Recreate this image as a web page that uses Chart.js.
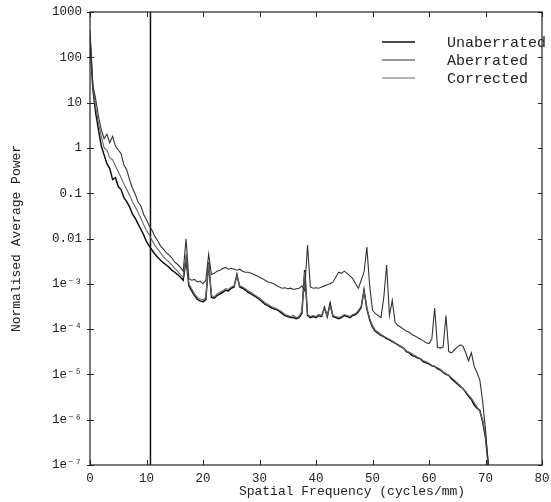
<!DOCTYPE html>
<html>
<head>
<meta charset="utf-8">
<script src="https://cdn.jsdelivr.net/npm/chart.js@4.4.1/dist/chart.umd.min.js"></script>
<style>
  html, body { margin: 0; padding: 0; background: #fff; }
</style>
</head>
<body>
<canvas id="chart" width="551" height="502"></canvas>
<script>
// spatial frequency samples (cycles/mm)
const freq = [
  0, 0.5, 1, 1.5, 2, 2.5, 3, 3.5, 4, 4.5,
  5, 5.5, 6, 6.5, 7, 7.5, 8, 8.5, 9, 9.5,
  10, 10.5, 11, 11.5, 12, 12.5, 13, 13.5, 14, 14.5,
  15, 15.5, 16, 16.5, 17, 17.5, 18, 18.5, 19, 19.5,
  20, 20.5, 21, 21.5, 22, 22.5, 23, 23.5, 24, 24.5,
  25, 25.5, 26, 26.5, 27, 27.5, 28, 28.5, 29, 29.5,
  30, 30.5, 31, 31.5, 32, 32.5, 33, 33.5, 34, 34.5,
  35, 35.5, 36, 36.5, 37, 37.5, 38, 38.5, 39, 39.5,
  40, 40.5, 41, 41.5, 42, 42.5, 43, 43.5, 44, 44.5,
  45, 45.5, 46, 46.5, 47, 47.5, 48, 48.5, 49, 49.5,
  50, 50.5, 51, 51.5, 52, 52.5, 53, 53.5, 54, 54.5,
  55, 55.5, 56, 56.5, 57, 57.5, 58, 58.5, 59, 59.5,
  60, 60.5, 61, 61.5, 62, 62.5, 63, 63.5, 64, 64.5,
  65, 65.5, 66, 66.5, 67, 67.5, 68, 68.5, 69, 69.5,
  70, 70.5
];

const unaberrated = [
  250, 20, 6, 2.5, 1.1, 0.7, 0.45, 0.35, 0.2, 0.22,
  0.14, 0.12, 0.08, 0.065, 0.05, 0.035, 0.028, 0.021, 0.016, 0.012,
  0.0085, 0.0068, 0.0055, 0.0045, 0.0038, 0.0033, 0.0029, 0.0026, 0.0023, 0.002,
  0.0018, 0.0016, 0.0014, 0.0012, 0.0035, 0.0009, 0.0007, 0.00055, 0.00045, 0.00042,
  0.0004, 0.00045, 0.003, 0.0005, 0.00048, 0.00055, 0.0006, 0.00065, 0.00072, 0.0007,
  0.0008, 0.00085, 0.0016, 0.00085, 0.0008, 0.00072, 0.00065, 0.0006, 0.00055, 0.0005,
  0.00045, 0.0004, 0.00035, 0.00033, 0.0003, 0.00028, 0.00027, 0.00025, 0.00022, 0.0002,
  0.00019, 0.00018, 0.00018, 0.00017, 0.00018, 0.00022, 0.002, 0.0002, 0.00018, 0.00019,
  0.00018, 0.0002, 0.00019, 0.0003, 0.00019, 0.00037, 0.00019, 0.00018, 0.00017, 0.00018,
  0.0002, 0.00019, 0.00018, 0.0002, 0.00021, 0.00024, 0.0003, 0.00073, 0.00028, 0.00016,
  1.1e-4, 9e-5, 8e-5, 7.3e-5, 6.8e-5, 6.2e-5, 5.8e-5, 5.3e-5, 4.9e-5, 4.5e-5,
  4.1e-5, 3.8e-5, 3.2e-5, 3e-5, 2.6e-5, 2.5e-5, 2.3e-5, 2.2e-5, 1.9e-5, 1.8e-5,
  1.7e-5, 1.55e-5, 1.5e-5, 1.35e-5, 1.25e-5, 1.1e-5, 1e-5, 9.5e-6, 8e-6, 7e-6,
  6.2e-6, 5.4e-6, 4.9e-6, 4e-6, 3.3e-6, 2.8e-6, 2.1e-6, 1.8e-6, 1.6e-6, 9e-7,
  4e-7, 1e-7
];

const aberrated = [
  400, 25, 12, 5, 2.5, 1.6, 2.0, 1.3, 1.8, 1.1,
  0.9, 0.75, 0.42, 0.33, 0.2, 0.13, 0.095, 0.065, 0.052, 0.034,
  0.026, 0.019, 0.015, 0.011, 0.0088, 0.0068, 0.0058, 0.0049, 0.0043, 0.0037,
  0.003, 0.0027, 0.0023, 0.0019, 0.0098, 0.0013, 0.0012, 0.00125, 0.0011, 0.00115,
  0.001, 0.0012, 0.0045, 0.0016, 0.0017, 0.0019, 0.002, 0.0022, 0.0023, 0.0021,
  0.0022, 0.0021, 0.002, 0.0021, 0.0019, 0.0018, 0.0018, 0.0017, 0.0016, 0.0015,
  0.0014, 0.0013, 0.0012, 0.0011, 0.00105, 0.001, 0.00092, 0.00085, 0.0008, 0.00082,
  0.00078, 0.0008, 0.00075, 0.00078, 0.0008, 0.0009, 0.0007, 0.0072, 0.00085, 0.0008,
  0.00082, 0.0008, 0.00085, 0.0009, 0.00095, 0.001, 0.0011, 0.0014, 0.0018, 0.0017,
  0.0019, 0.0017, 0.0015, 0.0013, 0.001, 0.0008, 0.0012, 0.0018, 0.0065, 0.0009,
  0.00026, 0.00022, 0.0002, 0.00018, 0.0005, 0.0026, 0.0002, 0.00043, 0.00014, 0.00012,
  0.00011, 0.0001, 9e-5, 8.5e-5, 7.5e-5, 7e-5, 6.5e-5, 6e-5, 5.5e-5, 5e-5,
  4.8e-5, 6e-5, 2.9e-4, 4e-5, 3.8e-5, 4e-5, 2e-4, 3.2e-5, 3e-5, 3.5e-5,
  4e-5, 4.5e-5, 4.2e-5, 3e-5, 2e-5, 3e-5, 1.5e-5, 1.1e-5, 7.5e-6, 2.5e-6,
  6e-7, 1e-7
];

const corrected = [
  300, 22, 8, 3.5, 1.8, 1.0, 0.9, 0.6, 0.55, 0.4,
  0.3, 0.22, 0.16, 0.12, 0.09, 0.065, 0.05, 0.038, 0.028, 0.02,
  0.015, 0.012, 0.009, 0.007, 0.0058, 0.0048, 0.004, 0.0034, 0.003, 0.0026,
  0.0022, 0.0019, 0.0016, 0.0014, 0.004, 0.001, 0.00078, 0.0006, 0.0005, 0.00046,
  0.00044, 0.0005, 0.0028, 0.00055, 0.00052, 0.0006, 0.00066, 0.0007, 0.00078, 0.00075,
  0.00085, 0.0009, 0.0015, 0.0009, 0.00085, 0.00078, 0.0007, 0.00064, 0.00058, 0.00053,
  0.00048, 0.00043, 0.00038, 0.00035, 0.00032, 0.0003, 0.00028, 0.00026, 0.00024, 0.00021,
  0.0002, 0.00019, 0.0002, 0.00018, 0.00019, 0.00025, 0.0018, 0.00021, 0.00019, 0.0002,
  0.00019, 0.00021, 0.0002, 0.00028, 0.0002, 0.00033, 0.0002, 0.00019, 0.00018, 0.00019,
  0.00021, 0.0002, 0.00019, 0.00021, 0.00022, 0.00026, 0.00032, 0.0007, 0.0003, 0.00017,
  1.2e-4, 9.5e-5, 8.5e-5, 7.6e-5, 7e-5, 6.4e-5, 6e-5, 5.5e-5, 5e-5, 4.6e-5,
  4.2e-5, 3.8e-5, 3.3e-5, 3.1e-5, 2.9e-5, 2.6e-5, 2.4e-5, 2.2e-5, 2e-5, 1.9e-5,
  1.75e-5, 1.6e-5, 1.5e-5, 1.4e-5, 1.3e-5, 1.15e-5, 1.05e-5, 9.5e-6, 8.5e-6, 7.5e-6,
  6.5e-6, 5.7e-6, 4.8e-6, 4.2e-6, 3.5e-6, 3e-6, 2.4e-6, 1.9e-6, 1.5e-6, 1e-6,
  4.5e-7, 1e-7
];

// vertical cut-off marker
const markerFreq = [10.7, 10.7];
const markerPower = [1e-7, 1000];

const xTickValues = [0, 10, 20, 30, 40, 50, 60, 70, 80];
const yTickValues = [1e-7, 1e-6, 1e-5, 1e-4, 1e-3, 0.01, 0.1, 1, 10, 100, 1000];
const yTickLabels = ['1e⁻⁷', '1e⁻⁶', '1e⁻⁵', '1e⁻⁴', '1e⁻³', '0.01', '0.1', '1', '10', '100', '1000'];

const xTitle = 'Spatial Frequency (cycles/mm)';
const yTitle = 'Normalised Average Power';
const legendOrder = ['Unaberrated', 'Aberrated', 'Corrected'];

const MONO = "'Liberation Mono', 'DejaVu Sans Mono', monospace";
const INK = '#222';

const toPoints = (xs, ys) => xs.map((x, i) => ({ x, y: ys[i] }));

const frame = {
  id: 'frame',
  afterDraw(chart) {
    const { ctx, chartArea: a, scales } = chart;
    ctx.save();
    ctx.strokeStyle = INK;
    ctx.lineWidth = 1.2;
    ctx.strokeRect(a.left, a.top, a.right - a.left, a.bottom - a.top);
    ctx.lineWidth = 1;
    ctx.beginPath();
    xTickValues.forEach(v => {
      const px = Math.round(scales.x.getPixelForValue(v)) + 0.5;
      ctx.moveTo(px, a.bottom); ctx.lineTo(px, a.bottom - 5);
      ctx.moveTo(px, a.top); ctx.lineTo(px, a.top + 5);
    });
    yTickValues.forEach(v => {
      const py = Math.round(scales.y.getPixelForValue(v)) + 0.5;
      ctx.moveTo(a.left - 3, py); ctx.lineTo(a.left + 4, py);
      ctx.moveTo(a.right - 4, py); ctx.lineTo(a.right, py);
    });
    ctx.stroke();

    // x axis title, set a little right of centre like the original
    ctx.fillStyle = INK;
    ctx.font = '13px ' + MONO;
    ctx.textAlign = 'center';
    ctx.textBaseline = 'middle';
    ctx.fillText(xTitle, 352, 492);

    // legend in the top right corner
    ctx.font = '15px ' + MONO;
    ctx.textAlign = 'left';
    chart.data.datasets.forEach(ds => {
      const row = legendOrder.indexOf(ds.label);
      if (row < 0) return;
      const y = 42 + row * 18;
      ctx.strokeStyle = ds.borderColor;
      ctx.lineWidth = ds.borderWidth;
      ctx.beginPath();
      ctx.moveTo(382, y); ctx.lineTo(415, y);
      ctx.stroke();
      ctx.fillText(ds.label, 447, y + 1);
    });
    ctx.restore();
  }
};

new Chart(document.getElementById('chart').getContext('2d'), {
  type: 'line',
  data: {
    datasets: [
      {
        label: 'Aberrated',
        data: toPoints(freq, aberrated),
        borderColor: '#333',
        borderWidth: 1.1,
        pointRadius: 0,
        tension: 0
      },
      {
        label: 'Corrected',
        data: toPoints(freq, corrected),
        borderColor: '#666',
        borderWidth: 1.1,
        pointRadius: 0,
        tension: 0
      },
      {
        label: 'Unaberrated',
        data: toPoints(freq, unaberrated),
        borderColor: '#111',
        borderWidth: 1.5,
        pointRadius: 0,
        tension: 0
      },
      {
        label: 'marker',
        data: toPoints(markerFreq, markerPower),
        borderColor: '#111',
        borderWidth: 1.5,
        pointRadius: 0
      }
    ]
  },
  options: {
    responsive: false,
    animation: false,
    devicePixelRatio: 1,
    layout: { padding: { top: 12, right: 9, left: 0, bottom: 0 } },
    scales: {
      x: {
        type: 'linear',
        min: 0,
        max: 80,
        afterBuildTicks: (scale) => { scale.ticks = xTickValues.map(value => ({ value })); },
        afterFit: (scale) => {
          scale.height = 37;
          scale.paddingLeft = 0;
          scale.paddingRight = 0;
        },
        grid: { display: false, drawTicks: false },
        border: { display: false },
        ticks: {
          color: INK,
          padding: 6,
          maxRotation: 0,
          font: { family: MONO, size: 12.5 }
        }
      },
      y: {
        type: 'logarithmic',
        min: 1e-7,
        max: 1000,
        afterBuildTicks: (scale) => { scale.ticks = yTickValues.map(value => ({ value })); },
        afterFit: (scale) => {
          scale.width = 90;
          scale.paddingTop = 0;
          scale.paddingBottom = 0;
        },
        grid: { display: false, drawTicks: false },
        border: { display: false },
        ticks: {
          color: INK,
          padding: 8,
          font: { family: MONO, size: 12.5 },
          callback: (value) => yTickLabels[yTickValues.indexOf(value)] ?? ''
        },
        title: {
          display: true,
          text: yTitle,
          color: INK,
          padding: { top: 9, bottom: 0 },
          font: { family: MONO, size: 13 }
        }
      }
    },
    plugins: {
      legend: { display: false },
      tooltip: { enabled: false }
    }
  },
  plugins: [frame]
});
</script>
</body>
</html>
